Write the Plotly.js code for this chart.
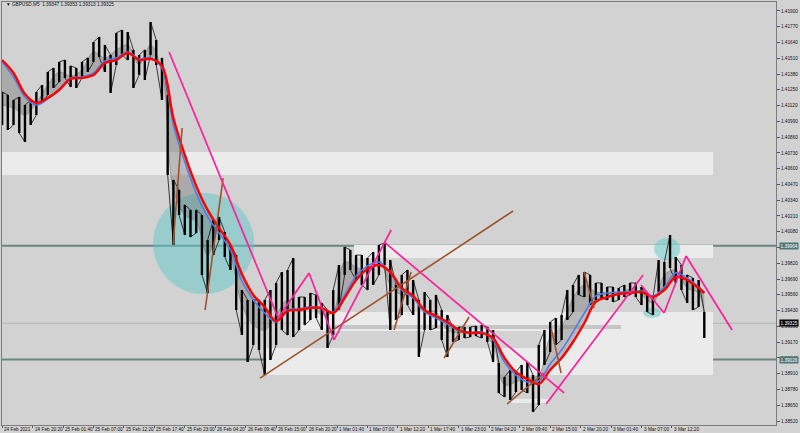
<!DOCTYPE html>
<html>
<head>
<meta charset="utf-8">
<script src="https://cdn.plot.ly/plotly-3.0.1.min.js"></script>
<style>html,body{margin:0;padding:0;background:#d2d2d2;}#chart{width:800px;height:433px;}</style>
</head>
<body>
<div id="chart"></div>
<script>
// ---- Data (x = trading hours since 24 Feb 2021 15:00, weekend removed) ----
const tickHours = [0,5.333,10.667,16,21.333,26.667,32,37.333,42.667,48,53.333,58.667,64,69.333,74.667,80,85.333,90.667,96,101.333,106.667,112,117.333];
const tickText = ["24 Feb 2021","24 Feb 20:20","25 Feb 01:40","25 Feb 07:00","25 Feb 12:20","25 Feb 17:40","25 Feb 23:00","26 Feb 04:20","26 Feb 09:40","26 Feb 15:00","26 Feb 20:20","1 Mar 01:40","1 Mar 07:00","1 Mar 12:20","1 Mar 17:40","1 Mar 23:00","2 Mar 04:20","2 Mar 09:40","2 Mar 15:00","2 Mar 20:20","3 Mar 01:40","3 Mar 07:00","3 Mar 12:20"];

// hourly high / low of GBPUSD (hour 0 .. 123)
const priceHigh = [1.41232,1.41208,1.41166,1.41191,1.41125,1.41166,1.41232,1.41290,1.41397,1.41430,
1.41480,1.41496,1.41447,1.41430,1.41480,1.41513,1.41644,1.41686,1.41620,1.41537,
1.41719,1.41743,1.41727,1.41579,1.41537,1.41579,1.41809,1.41661,1.41513,1.41208,
1.40507,1.40424,1.40301,1.40260,1.40260,1.40218,1.40012,1.40177,1.40202,1.40078,
1.39971,1.39888,1.39600,1.39518,1.39518,1.39518,1.39518,1.39600,1.39658,1.39748,
1.39765,1.39864,1.39542,1.39542,1.39575,1.39559,1.39493,1.39435,1.39600,1.39806,
1.39954,1.39930,1.39888,1.39888,1.39864,1.39913,1.39971,1.39987,1.39847,1.39641,
1.39724,1.39765,1.39682,1.39518,1.39583,1.39518,1.39559,1.39435,1.39394,1.39287,
1.39295,1.39295,1.39295,1.39303,1.39311,1.39295,1.39270,1.38998,1.38883,1.38940,
1.38924,1.38982,1.39006,1.38899,1.39147,1.39270,1.39336,1.39369,1.39394,1.39600,
1.39641,1.39724,1.39748,1.39724,1.39658,1.39658,1.39625,1.39625,1.39616,1.39641,
1.39658,1.39658,1.39625,1.39559,1.39534,1.39847,1.39831,1.40053,1.39872,1.39806,
1.39724,1.39699,1.39682,1.39419];
const priceLow = [1.40960,1.40919,1.40960,1.40894,1.40820,1.40960,1.41043,1.41142,1.41208,1.41265,
1.41315,1.41348,1.41274,1.41265,1.41348,1.41397,1.41480,1.41521,1.41397,1.41224,
1.41455,1.41537,1.41496,1.41265,1.41372,1.41331,1.41537,1.41455,1.41166,1.40548,
1.39971,1.40218,1.40053,1.40037,1.40070,1.39724,1.39575,1.39888,1.40012,1.39872,
1.39765,1.39435,1.39229,1.39006,1.39147,1.39105,1.38899,1.39023,1.39147,1.39270,
1.39229,1.39212,1.39270,1.39311,1.39353,1.39369,1.39270,1.39122,1.39229,1.39435,
1.39724,1.39765,1.39682,1.39641,1.39600,1.39641,1.39724,1.39806,1.39270,1.39353,
1.39394,1.39476,1.39394,1.39048,1.39270,1.39270,1.39287,1.39188,1.39048,1.39171,
1.39188,1.39204,1.39212,1.39221,1.39204,1.39171,1.39006,1.38751,1.38718,1.38693,
1.38759,1.38776,1.38751,1.38594,1.38652,1.38982,1.39089,1.39147,1.39188,1.39353,
1.39419,1.39559,1.39542,1.39476,1.39518,1.39534,1.39518,1.39501,1.39518,1.39542,
1.39559,1.39542,1.39476,1.39419,1.39394,1.39583,1.39616,1.39781,1.39658,1.39600,
1.39493,1.39435,1.39460,1.39204];

// moving averages sampled every 2 hours (last point hour 123)
const maHours = [0,2,4,6,8,10,12,14,16,18,20,22,24,26,28,30,32,34,36,38,40,42,44,46,48,50,52,54,56,58,60,62,64,66,68,70,72,74,76,78,80,82,84,86,88,90,92,94,96,98,100,102,104,106,108,110,112,114,116,118,120,122,123];
const maRed = [1.41496,1.41389,1.41216,1.41142,1.41183,1.41249,1.41340,1.41348,1.41372,1.41471,
1.41496,1.41554,1.41496,1.41505,1.41447,1.41018,1.40713,1.40458,1.40260,1.40111,
1.39971,1.39732,1.39559,1.39460,1.39344,1.39427,1.39435,1.39452,1.39452,1.39410,
1.39534,1.39682,1.39773,1.39806,1.39748,1.39616,1.39551,1.39435,1.39386,1.39336,
1.39270,1.39245,1.39245,1.39204,1.39039,1.38924,1.38866,1.38825,1.38940,1.39039,
1.39171,1.39328,1.39501,1.39542,1.39567,1.39575,1.39583,1.39542,1.39600,1.39707,
1.39682,1.39616,1.39575];
const maBlue = [1.41480,1.41356,1.41191,1.41125,1.41175,1.41257,1.41348,1.41356,1.41389,1.41488,
1.41513,1.41562,1.41505,1.41513,1.41430,1.40960,1.40656,1.40400,1.40202,1.40070,
1.39930,1.39674,1.39518,1.39410,1.39336,1.39435,1.39443,1.39460,1.39452,1.39419,
1.39559,1.39715,1.39798,1.39831,1.39740,1.39600,1.39534,1.39419,1.39369,1.39320,
1.39262,1.39245,1.39254,1.39188,1.39006,1.38899,1.38842,1.38850,1.38990,1.39105,
1.39254,1.39410,1.39551,1.39575,1.39583,1.39583,1.39592,1.39551,1.39625,1.39740,
1.39699,1.39625,1.39583];
const maFast = [1.41125,1.41100,1.41043,1.41142,1.41290,1.41397,1.41364,1.41414,1.41562,1.41513,
1.41579,1.41620,1.41455,1.41620,1.41397,1.40424,1.40218,1.40160,1.39888,1.40095,
1.39888,1.39476,1.39311,1.39270,1.39394,1.39518,1.39419,1.39468,1.39394,1.39419,
1.39831,1.39790,1.39748,1.39847,1.39641,1.39559,1.39559,1.39435,1.39419,1.39270,
1.39245,1.39254,1.39254,1.39147,1.38817,1.38842,1.38874,1.38899,1.39212,1.39295,
1.39534,1.39641,1.39583,1.39575,1.39567,1.39608,1.39559,1.39493,1.39724,1.39765,
1.39616,1.39575,1.39353];

// trend lines [hourStart, priceStart, hourEnd, priceEnd]
const pinkLines = [[29.25,1.41562,48.35,1.39369],[48.35,1.39369,53.77,1.39740],[53.77,1.39740,58.15,1.39188],[58.15,1.39188,68.14,1.40095],
[66.91,1.39996,98.44,1.38751],[95.29,1.38660,112.28,1.39724],[111.93,1.39641,115.96,1.39410],[115.96,1.39410,119.81,1.39880],[119.81,1.39880,127.87,1.39270]];
const brownLines = [[29.95,1.39971,31.53,1.40935],[35.56,1.39435,38.71,1.40523],[45.19,1.38874,89.51,1.40251],[68.66,1.39270,71.64,1.39748],
[77.42,1.39039,81.80,1.39377],[88.46,1.38660,94.94,1.38915],[96.16,1.39287,97.92,1.38915],[101.94,1.39748,103.70,1.39452]];

// supply / demand zones [hourStart, hourEnd, priceTop, priceBottom]
const zones = [[-1,124.54,1.40738,1.40548],[61.66,124.54,1.39971,1.39864],[52.4,124.54,1.39419,1.39262],[94.41,124.54,1.39278,1.39122],[46.24,124.54,1.39122,1.38899],[89.16,95.81,1.38701,1.38668]];
const darkStrip = [57.6,108.43,1.39311,1.39278];
// highlighted circles [hourStart, hourEnd, priceBottom, priceTop]
const circles = [[26.45,44.14,1.39567,1.40400],[114.2,118.8,1.39847,1.40029],[112.28,115.43,1.39369,1.39452]];
// horizontal levels
const levelLines = [1.39964,1.39026];
const currentPrice = 1.39325;
const headerText = "GBPUSD,M5  1.39347 1.39353 1.39313 1.39325";

// ---- Build traces ----
const bx = [], by = [], zx = [], zy = [];
priceHigh.forEach((h, i) => {
  const l = priceLow[i];
  bx.push(i, i, null);
  by.push(l, h, null);
  zx.push(i, i);
  if (i % 2 === 0) { zy.push(l, h); } else { zy.push(h, l); }
});
function segs(list){
  const x=[], y=[];
  list.forEach(s => { x.push(s[0], s[2], null); y.push(s[1], s[3], null); });
  return {x, y};
}
const pk = segs(pinkLines), br = segs(brownLines);

const traces = [
  {x: maHours, y: maRed, mode:'lines', line:{width:0, color:'rgba(0,0,0,0)', shape:'spline'}, hoverinfo:'skip'},
  {x: maHours, y: maFast, mode:'lines', fill:'tonexty', fillcolor:'rgba(100,100,100,0.36)', line:{width:0.6, color:'rgba(90,90,90,0.7)', shape:'spline'}, hoverinfo:'skip'},
  {x: zx, y: zy, mode:'lines', line:{width:0.8, color:'#111111'}},
  {x: bx, y: by, mode:'lines', line:{width:2.4, color:'#000000'}, connectgaps:false},
  {x: maHours, y: maBlue, mode:'lines', line:{width:1.6, color:'#4f7fe8', shape:'spline'}},
  {x: maHours, y: maRed, mode:'lines', line:{width:2.4, color:'#ff0000', shape:'spline'}},
  {x: br.x, y: br.y, mode:'lines', line:{width:1.6, color:'#a0522d'}, connectgaps:false},
  {x: pk.x, y: pk.y, mode:'lines', line:{width:1.7, color:'#ff1f9a'}, connectgaps:false}
];

const shapes = [];
zones.forEach(z => shapes.push({type:'rect', xref:'x', yref:'y', x0:z[0], x1:z[1], y0:z[3], y1:z[2], fillcolor:'#ebebeb', line:{width:0}, layer:'below'}));
shapes.push({type:'rect', xref:'x', yref:'y', x0:darkStrip[0], x1:darkStrip[1], y0:darkStrip[3], y1:darkStrip[2], fillcolor:'#c6c6c6', line:{width:0}, layer:'below'});
shapes.push({type:'line', xref:'paper', yref:'y', x0:0, x1:1, y0:currentPrice, y1:currentPrice, line:{width:1, color:'#b4b4b4'}, layer:'below'});
levelLines.forEach(v => shapes.push({type:'line', xref:'paper', yref:'y', x0:0, x1:1, y0:v, y1:v, line:{width:2, color:'#6a8585'}, layer:'below'}));
circles.forEach(c => shapes.push({type:'circle', xref:'x', yref:'y', x0:c[0], x1:c[1], y0:c[2], y1:c[3], fillcolor:'rgba(95,200,200,0.5)', line:{width:0}, layer:'below'}));

const tf = {family:'Liberation Sans, Arial, sans-serif', size:4.7, color:'#111111'};
const annotations = [
  {xref:'paper', yref:'paper', x:0.002, y:0.993, xanchor:'left', yanchor:'middle', showarrow:false, text:'\u25BC ' + headerText, font:tf},
  {xref:'paper', yref:'y', x:1, y:levelLines[0], xanchor:'left', yanchor:'middle', xshift:3, showarrow:false, text:levelLines[0].toFixed(5), font:{family:tf.family, size:4.7, color:'#ffffff'}, bgcolor:'#4f7676', borderpad:0.5},
  {xref:'paper', yref:'y', x:1, y:currentPrice, xanchor:'left', yanchor:'middle', xshift:3, showarrow:false, text:currentPrice.toFixed(5), font:{family:tf.family, size:4.7, color:'#ffffff'}, bgcolor:'#000000', borderpad:0.5},
  {xref:'paper', yref:'y', x:1, y:levelLines[1], xanchor:'left', yanchor:'middle', xshift:3, showarrow:false, text:levelLines[1].toFixed(5), font:{family:tf.family, size:4.7, color:'#ffffff'}, bgcolor:'#4f7676', borderpad:0.5}
];
tickHours.forEach((h, k) => annotations.push({xref:'x', yref:'paper', x:h, y:0, xanchor:'left', yanchor:'top', xshift:1, yshift:-0.5, showarrow:false, text:tickText[k], font:tf, borderpad:0}));

const layout = {
  width:800, height:433,
  margin:{l:2, r:24, t:2, b:8},
  paper_bgcolor:'#d2d2d2', plot_bgcolor:'#d2d2d2',
  showlegend:false,
  xaxis:{range:[-0.02,135.56], tickmode:'array', tickvals:tickHours, showticklabels:false,
    ticks:'outside', ticklen:2, tickcolor:'#555', showgrid:false, zeroline:false,
    showline:true, linecolor:'#7c7c7c', linewidth:1, mirror:true, automargin:false},
  yaxis:{range:[1.38487,1.41974], side:'right', tickmode:'linear', tick0:1.3852, dtick:0.0013, tickformat:'.5f',
    ticks:'outside', ticklen:3, tickcolor:'#555', tickfont:tf, showgrid:false, zeroline:false,
    showline:true, linecolor:'#7c7c7c', linewidth:1, mirror:true, automargin:false},
  shapes:shapes,
  annotations:annotations
};

Plotly.newPlot('chart', traces, layout, {displayModeBar:false, staticPlot:true});
</script>
</body>
</html>
